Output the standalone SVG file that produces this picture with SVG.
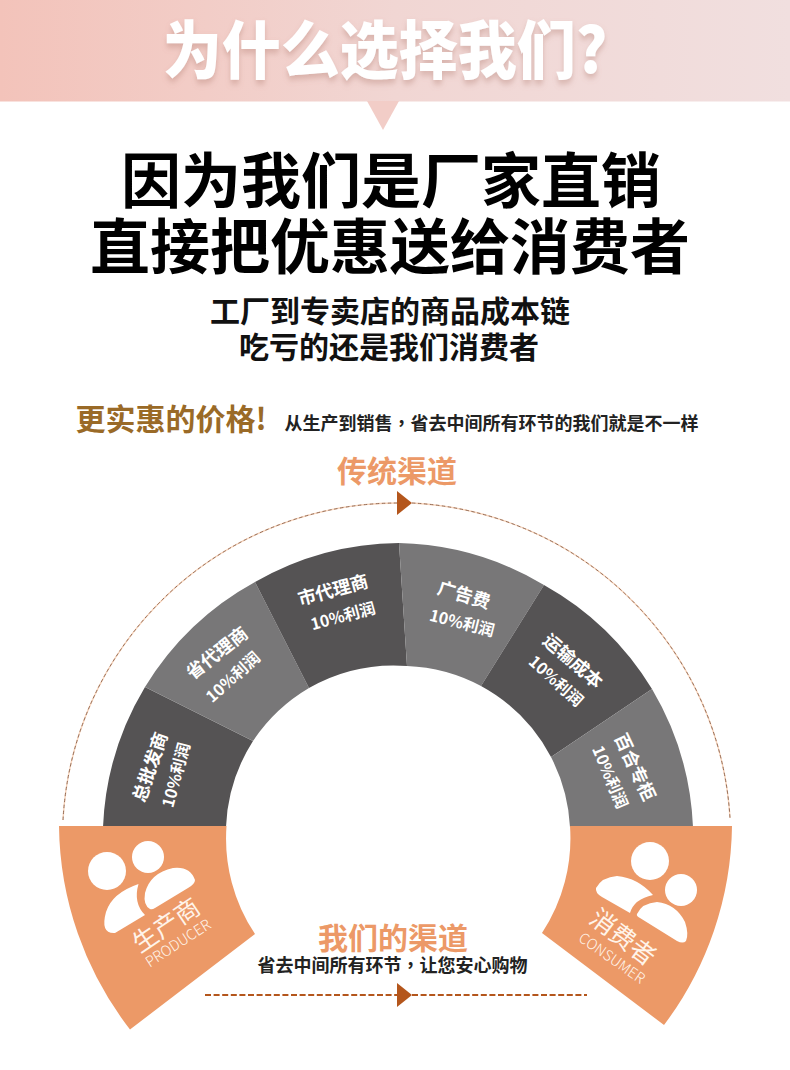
<svg xmlns="http://www.w3.org/2000/svg" width="790" height="1070" viewBox="0 0 790 1070">
<defs>
<linearGradient id="hdr" x1="0" y1="0" x2="1" y2="0"><stop offset="0" stop-color="#f3c3ba"/><stop offset="0.5" stop-color="#f1d6d3"/><stop offset="1" stop-color="#f1dfdf"/></linearGradient>
<filter id="sh" x="-10%" y="-20%" width="120%" height="150%"><feDropShadow dx="0" dy="4" stdDeviation="3" flood-color="#b07a70" flood-opacity="0.4"/></filter>
</defs>
<style>
text{font-family:"Noto Sans CJK SC","Noto Sans",sans-serif;text-anchor:middle}
.dark{fill:#555354}.light{fill:#787778}.or{fill:#ec9967}
.s1{fill:#fff;font-size:18px;font-weight:700}
.s2{fill:#fff;font-size:16px;font-weight:700}
.ic{fill:#fff}
.big{fill:#000;font-size:60px;font-weight:700}
.mid{fill:#111;font-size:30px;font-weight:700}
.sub{fill:#222;font-size:18px;font-weight:700}
.cm{font-family:"Noto Sans CJK TC","Noto Sans CJK SC",sans-serif}
.chan{fill:#ec9967;font-size:30px;font-weight:700}
.nm{fill:#fff4ea;font-size:25px;font-weight:400}
.en{fill:#fff4ea;font-size:14.5px;font-weight:300}
.halo{fill:none;stroke:#f8d5bd;stroke-width:1.400}
.dash{fill:none;stroke:#7d5540;stroke-width:0.800;stroke-dasharray:3.500 2.500}
.dash2{fill:none;stroke:#b4561c;stroke-width:2;stroke-dasharray:6 2.600}
</style>
<g id="header">
<rect x="0" y="0" width="790" height="101.500" fill="url(#hdr)"/>
<path d="M367 101L399 101L383 130Z" fill="#f2cdc7"/>
<g transform="translate(385 73) scale(0.937 1)"><text x="0" y="0" fill="#fff" font-size="63" font-weight="900" filter="url(#sh)">为什么选择我们?</text></g>
</g>
<g id="headline">
<text class="big" x="391" y="203">因为我们是厂家直销</text>
<text class="big" x="390" y="269">直接把优惠送给消费者</text>
<text class="mid" x="390" y="322">工厂到专卖店的商品成本链</text>
<text class="mid" x="389" y="358">吃亏的还是我们消费者</text>
<text x="171" y="430" fill="#9a6a27" font-size="30" font-weight="700">更实惠的价格!</text>
<text class="sub" x="491.500" y="430">从生产到销售<tspan class="cm">&#xFF0C;</tspan>省去中间所有环节的我们就是不一样</text>
<text class="chan" x="397" y="482">传统渠道</text>
</g>
<g id="connectors">
<path class="halo" d="M63 820A335.500 335.500 0 0 1 397 503"/>
<path class="halo" d="M412 503A335.500 335.500 0 0 1 730 818"/>
<path class="dash" d="M63 820A335.500 335.500 0 0 1 397 503"/>
<path class="dash" d="M412 503A335.500 335.500 0 0 1 730 818"/>
<path d="M397 491L412 503L397 515Z" fill="#b4561c"/>
<path class="dash2" d="M205 995H397"/>
<path class="dash2" d="M412 995H587"/>
<path d="M397 983L412 995L397 1007Z" fill="#b4561c"/>
</g>
<g id="seg-zongpi">
<path class="dark" d="M103 827A295 295 0 0 1 145 687L253 741A172 172 0 0 0 226 827Z"/>
<g transform="translate(150 767) rotate(-71)"><text class="s1" dy=".36em">总批发商</text></g>
<g transform="translate(176 775) rotate(-75)"><text class="s2" dy=".36em">10%利润</text></g>
</g>
<g id="seg-shengdai">
<path class="light" d="M145 687A295 295 0 0 1 255 582L309 688A172 172 0 0 0 253 741Z"/>
<g transform="translate(217 653) rotate(-38)"><text class="s1" dy=".36em">省代理商</text></g>
<g transform="translate(233 677) rotate(-42)"><text class="s2" dy=".36em">10%利润</text></g>
</g>
<g id="seg-shidai">
<path class="dark" d="M255 582A295 295 0 0 1 399 543L407 666A172 172 0 0 0 309 688Z"/>
<g transform="translate(333 590) rotate(-15)"><text class="s1" dy=".36em">市代理商</text></g>
<g transform="translate(343 616) rotate(-15)"><text class="s2" dy=".36em">10%利润</text></g>
</g>
<g id="seg-guanggao">
<path class="light" d="M399 543A295 295 0 0 1 544 585L481 686A172 172 0 0 0 407 666Z"/>
<g transform="translate(464 595) rotate(17)"><text class="s1" dy=".36em">广告费</text></g>
<g transform="translate(462 623) rotate(14)"><text class="s2" dy=".36em">10%利润</text></g>
</g>
<g id="seg-yunshu">
<path class="dark" d="M544 585A295 295 0 0 1 652 689L551 757A172 172 0 0 0 481 686Z"/>
<g transform="translate(573 661) rotate(41)"><text class="s1" dy=".36em">运输成本</text></g>
<g transform="translate(556 681) rotate(42)"><text class="s2" dy=".36em">10%利润</text></g>
</g>
<g id="seg-baihe">
<path class="light" d="M652 689A295 295 0 0 1 693 827H570A172 172 0 0 0 551 757Z"/>
<g transform="translate(635 767) rotate(65)"><text class="s1" dy=".36em">百合专柜</text></g>
<g transform="translate(610 777) rotate(67)"><text class="s2" dy=".36em">10%利润</text></g>
</g>
<g id="producer">
<path class="or" d="M59 826H226.500A172 172 0 0 0 255 934L130 1029.500A338 338 0 0 1 59 826Z"/>
<circle class="ic" cx="107" cy="871" r="19"/><circle class="ic" cx="148" cy="857" r="16"/>
<path class="ic" d="M138.500 884Q112 893 106 912Q100 934 115 933L145 915Q133 903 138.500 884Z"/>
<path class="ic" d="M150 909Q143 905 145 893Q150 873 173 868Q190 866 195 880Q195 884 188 888L155 908Q152 910 150 909Z"/>
<g transform="translate(166 925) rotate(-34)"><text class="nm" dy=".36em">生产商</text></g>
<g transform="translate(178 943) rotate(-33)"><text class="en" dy=".36em">PRODUCER</text></g>
</g>
<g id="consumer">
<path class="or" d="M570 826H732A338 338 0 0 1 664 1025L542 933A172 172 0 0 0 570 826Z"/>
<circle class="ic" cx="650" cy="861" r="19"/><circle class="ic" cx="681" cy="890" r="16"/>
<path class="ic" d="M653 895Q638 878 617 876Q602 877 596 888Q595 893 602 897L630 913Q634 899 653 895Z"/>
<path class="ic" d="M637 914Q642 903 657 902Q676 904 685 922Q689 934 686 941Q683 944 677 941L640 918Q636 916 637 914Z"/>
<g transform="translate(623 937) rotate(37)"><text class="nm" dy=".36em">消费者</text></g>
<g transform="translate(612 958) rotate(35)"><text class="en" dy=".36em">CONSUMER</text></g>
</g>
<g id="own-channel">
<text class="chan" x="393" y="949">我们的渠道</text>
<text class="sub" x="392.500" y="972">省去中间所有环节<tspan class="cm">&#xFF0C;</tspan>让您安心购物</text>
</g>
</svg>
